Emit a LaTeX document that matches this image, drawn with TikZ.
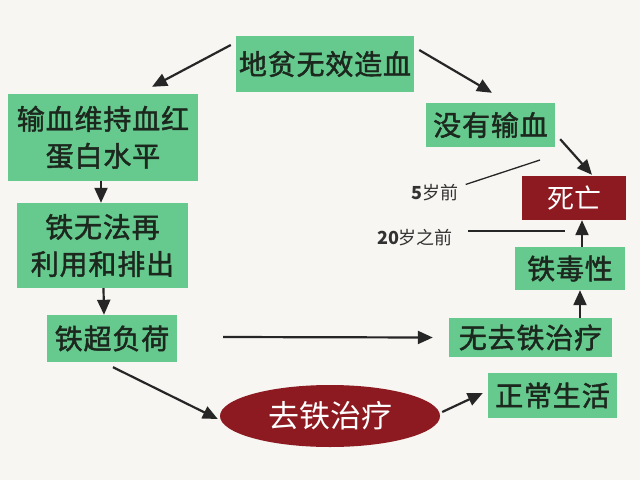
\documentclass[tikz,border=0pt]{standalone}
\usepackage{fontspec}
\newfontfamily\cjk{Noto Sans CJK SC}
\newfontfamily\cjkm[FakeBold=1.6, LetterSpace=3]{Noto Sans CJK SC}
\usetikzlibrary{arrows.meta,calc,shapes.geometric}
\definecolor{bgc}{RGB}{248,246,242}
\definecolor{boxg}{RGB}{102,202,142}
\definecolor{dred}{RGB}{140,26,32}
\definecolor{txtd}{RGB}{28,40,30}
\definecolor{lbl}{RGB}{50,50,50}
\tikzset{
  gbox/.style={fill=boxg, inner sep=0pt, text=txtd, align=center,
    font=\cjkm\fontsize{28}{37}\selectfont},
  rbox/.style={fill=dred, inner sep=0pt, text=white,
    font=\cjk\fontsize{27}{30}\selectfont},
  arr/.style={line width=2.2pt, draw=black!85, -{Triangle[length=15pt,width=13pt]}},
  thin/.style={line width=1.3pt, draw=black!85},
  agelbl/.style={text=lbl, inner sep=0pt, font=\cjk\fontsize{18}{20}\selectfont}
}
\begin{document}
\begin{tikzpicture}[x=1pt,y=-1pt]
\fill[bgc] (0,0) rectangle (640,480);
\useasboundingbox (0,0) rectangle (640,480);
% nodes
\node[gbox, minimum width=178pt, minimum height=56pt] (top) at (325,64) {地贫无效造血};
\node[gbox, minimum width=190pt, minimum height=87pt] (b1) at (103,137.5) {输血维持血红\\蛋白水平};
\node[gbox, minimum width=171pt, minimum height=85pt] (b2) at (102.5,245.5) {铁无法再\\利用和排出};
\node[gbox, minimum width=130pt, minimum height=47pt] (b3) at (112,338.5) {铁超负荷};
\node[ellipse, fill=dred, minimum width=220pt, minimum height=62pt, inner sep=0pt, text=white,
  font=\cjk\fontsize{31}{34}\selectfont] (ell) at (330,416) {去铁治疗};
\node[gbox, minimum width=129pt, minimum height=44pt] (nt) at (490.5,125) {没有输血};
\node[rbox, minimum width=104pt, minimum height=44pt] (death) at (574,198) {死亡};
\node[gbox, minimum width=110pt, minimum height=43pt] (tox) at (570,268.5) {铁毒性};
\node[gbox, minimum width=163pt, minimum height=39pt] (nod) at (530.5,337.5) {无去铁治疗};
\node[gbox, minimum width=129pt, minimum height=45pt] (norm) at (552.5,395.5) {正常生活};
\node[agelbl] (l5) at (435,193) {\textbf{5}岁前};
\node[agelbl] (l20) at (415,238) {\textbf{20}岁之前};
\coordinate (e5) at (540,160);
\coordinate (e20) at (565,231);
% arrows
\draw[arr] ($(top.west)+(-5,-19)$) -- ($(b1.north)+(49,-7)$);
\draw[arr] ($(top.east)+(5,-14)$) -- ($(nt.north)+(1.5,-10)$);
\draw[arr] ($(nt.south east)+(5,-8)$) -- ($(death.north)+(18,-1)$);
\draw[arr] ($(b1.south)+(-2,0)$) -- ($(b2.north)+(-1.5,0)$);
\draw[arr] ($(b2.south)+(1,0)$) -- ($(b3.north)+(-8,0)$);
\draw[arr] ($(b3.south)+(1,5)$) -- ($(ell.west)+(-2,3)$);
\draw[arr] ($(b3.east)+(46,-1.5)$) -- ($(nod.west)+(-16,0)$);
\draw[arr] ($(ell.east)+(2,-4)$) -- ($(norm.west)+(-5,-2.5)$);
\draw[arr] ($(nod.north)+(49.5,0)$) -- ($(tox.south)+(10,0)$);
\draw[arr] ($(tox.north)+(12,0)$) -- ($(death.south)+(8,0)$);
% age lines
\draw[thin] ($(l5.north east)+(7,0)$) -- (e5);
\draw[thin] ($(l20.east)+(15,-7)$) -- (e20);
\end{tikzpicture}
\end{document}
